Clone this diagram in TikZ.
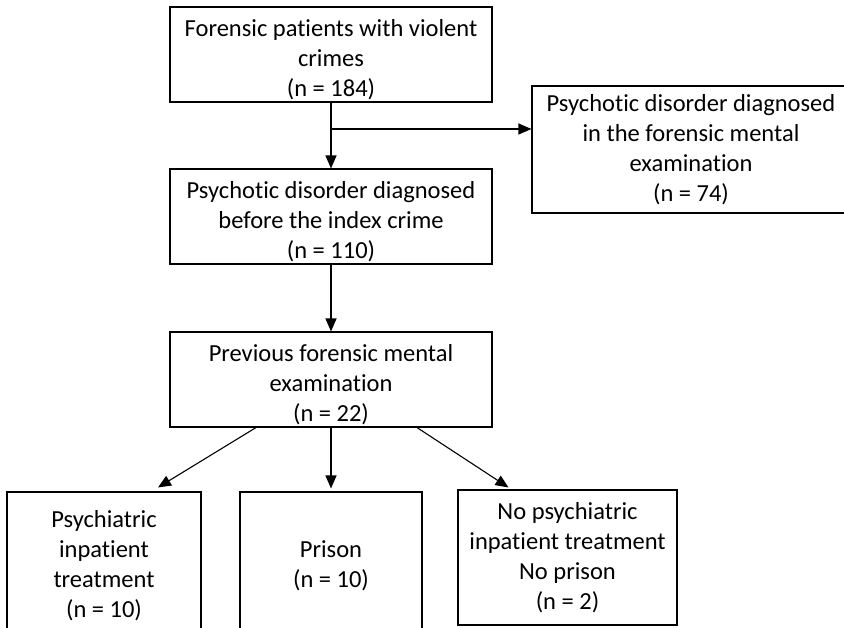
\documentclass[tikz,border=0pt]{standalone}
\usepackage{fontspec}
\setmainfont{Carlito}[Ligatures=NoCommon]
\usetikzlibrary{arrows.meta}
\newcommand{\toppad}{\rule{0pt}{27pt}}
\tikzset{
    every node/.style={rectangle, draw, line width=1.1pt, align=center, inner sep=0mm, font=\fontsize{24.5}{30}\selectfont}
}
\tikzset{flow/.style={line width=1.1pt, -{Triangle[length=13pt,width=11pt]}}}

\begin{document}
\begin{tikzpicture}[x=1pt, y=-1pt]
        \useasboundingbox (0, 0) rectangle (844, 627);
        \node (crimes) [minimum width=322pt, minimum height=95pt] at (331, 54.5) {\toppad Forensic patients with violent\\crimes\\(n = 184)};
        \node (before) [minimum width=322pt, minimum height=95pt] at (331, 216.5) {\toppad Psychotic disorder diagnosed\\before the index crime\\(n = 110)};
        \node (exam) [minimum width=318pt, minimum height=127pt] at (691, 149.5) {Psychotic disorder diagnosed\\in the forensic mental\\examination\\(n = 74)};
        \node (previous) [minimum width=322pt, minimum height=95pt] at (331, 379.5) {\toppad Previous forensic mental\\examination\\(n = 22)};
        \node (inpatient) [minimum width=194pt, minimum height=148pt] at (104, 566) {Psychiatric\\inpatient\\treatment\\(n = 10)};
        \node (prison) [minimum width=182pt, minimum height=148pt] at (331, 566) {Prison\\(n = 10)};
        \node (none) [minimum width=219pt, minimum height=135pt] at (567.5, 557.5) {No psychiatric\\inpatient treatment\\No prison\\(n = 2)};
        \coordinate (split) at (331, 129);
        \coordinate (examin) at (split -| exam.west);
        \coordinate (left0) at ([xshift=-75pt]previous.south);
        \coordinate (left1) at ([xshift=54pt, yshift=4pt]inpatient.north);
        \coordinate (mid1) at ([yshift=3pt]prison.north);
        \coordinate (right0) at ([xshift=86pt]previous.south);
        \coordinate (right1) at ([xshift=-59pt, yshift=2pt]none.north);
        \draw (crimes) edge [flow] (before);
        \draw (split) edge [flow] (examin);
        \draw (before) edge [flow] (previous);
        \draw (left0) edge [flow] (left1);
        \draw (previous.south) edge [flow] (mid1);
        \draw (right0) edge [flow] (right1);
\end{tikzpicture}
\end{document}
